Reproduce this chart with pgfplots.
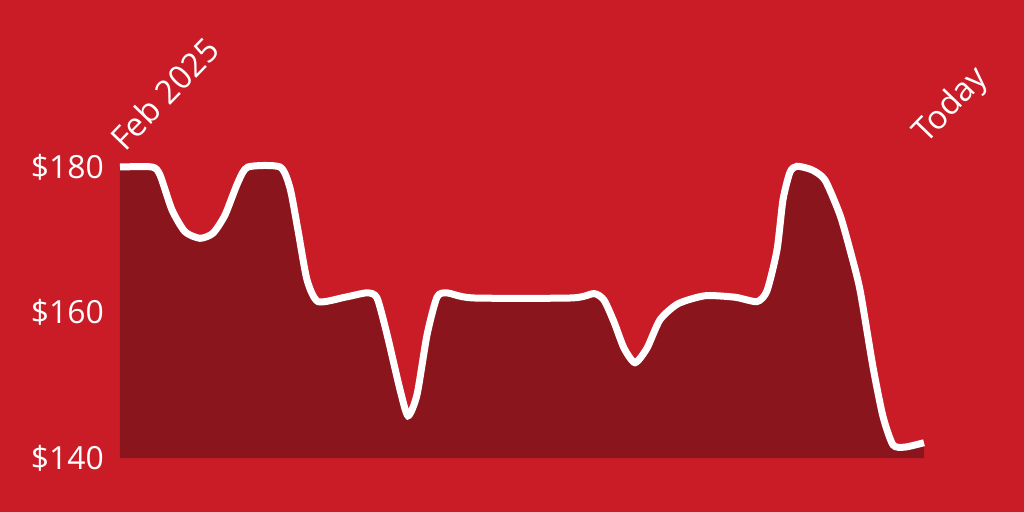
\documentclass[border=0pt]{standalone}
\usepackage{pgfplots}
\pgfplotsset{compat=1.18}
\usepackage{pgfplotstable}
\usepackage{fontspec}
\setmainfont{Open Sans}
\definecolor{bgred}{HTML}{C91C27}
\definecolor{fillred}{HTML}{8B151D}

% price history, x = position along the period
\pgfplotstableread{
x   y
0   180
32  180
40  178.9
52  174.1
65  171.1
80  170.2
93  170.9
105 173.4
118 177.9
128 180
160 180
170 177.1
178 171.3
187 164.5
198 161.5
225 162.1
247 162.7
257 162.0
267 157.0
280 149.4
288 145.8
297 148.7
307 156.9
317 162.1
327 162.7
353 162.0
452 162.0
474 162.6
484 161.7
494 158.7
504 155.1
515 153.1
527 155.1
540 159.0
558 161.2
585 162.3
615 162.1
637 161.5
647 163.0
657 168.6
663 175.5
670 179.3
677 180.1
692 179.6
705 178.2
720 173.4
730 168.6
740 163.1
753 152.5
763 145.7
773 141.8
785 141.5
804 142.1
}\pricedata

\begin{document}
\begin{tikzpicture}
\path[use as bounding box, fill=bgred] (-120bp,-54bp) rectangle (904bp,458bp);
\begin{axis}[
    at={(0,0)}, anchor=south west,
    scale only axis,
    width=804bp, height=291bp,
    xmin=0, xmax=804,
    ymin=140, ymax=180,
    clip=false,
    axis line style={draw=none},
    xtick=\empty,
    ytick={140,160,180},
    yticklabels={\$140,\$160,\$180},
    ytick style={draw=none},
    major tick length=0pt,
    yticklabel style={font=\fontsize{32}{38}\selectfont, text=white,
        anchor=east, inner sep=0pt, xshift=-16bp},
]
\addplot[fill=fillred, draw=none, smooth, tension=0.4]
    table[x=x, y=y] {\pricedata} \closedcycle;
\addplot[white, line width=7bp, smooth, tension=0.4]
    table[x=x, y=y] {\pricedata};
\node[rotate=46, anchor=base west, inner sep=0pt, text=white,
    font=\fontsize{33}{39}\selectfont] at (axis cs:20,180) [yshift=21bp] {Feb 2025};
\node[rotate=46, anchor=base west, inner sep=0pt, text=white,
    font=\fontsize{33}{39}\selectfont] at (axis cs:829,180) [yshift=32bp] {Today};
\end{axis}
\end{tikzpicture}
\end{document}
